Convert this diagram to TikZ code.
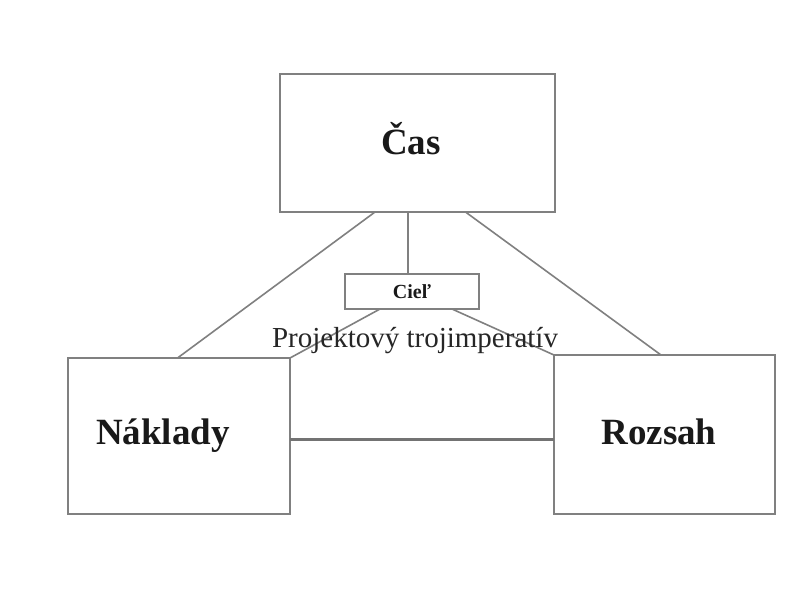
\documentclass[tikz,border=0pt]{standalone}
\usepackage{fontspec}
\setmainfont{Liberation Serif}
\usetikzlibrary{calc}
\begin{document}
\begin{tikzpicture}[x=1pt,y=-1pt,
  box/.style={draw=black!50,line width=2pt,fill=white,inner sep=0pt,outer sep=0pt},
  link/.style={draw=black!50,line width=1.6pt},
  bigtxt/.style={font=\fontsize{37}{42}\selectfont\bfseries,anchor=base,text=black!90,inner sep=0pt},
  midtxt/.style={font=\fontsize{29}{34}\selectfont,anchor=base,text=black!85,inner sep=0pt},
  smalltxt/.style={font=\fontsize{20}{24}\selectfont\bfseries,anchor=base,text=black!90,inner sep=0pt}
]
\useasboundingbox (0,0) rectangle (808,606);
\fill[white] (0,0) rectangle (808,606);
% boxes
\node[box,minimum width=275pt,minimum height=138pt] (cas) at (417.5,143) {};
\node[box,minimum width=134pt,minimum height=35pt] (cil) at (412,291.5) {};
\node[box,minimum width=222pt,minimum height=156pt] (nak) at (179,436) {};
\node[box,minimum width=221pt,minimum height=159pt] (roz) at (664.5,434.5) {};
% connector end points
\coordinate (c1) at ($(cas.south west)+(95,0)$);
\coordinate (c2) at ($(cas.south west)+(128,0)$);
\coordinate (c3) at ($(cas.south west)+(185.5,0)$);
\coordinate (n1) at ($(nak.north west)+(109.5,0)$);
\coordinate (r1) at ($(roz.north west)+(107,0)$);
\coordinate (g1) at ($(cil.south west)+(35,0)$);
\coordinate (g2) at ($(cil.south west)+(107,0)$);
\coordinate (cilt) at (cil.north -| c2);
% connectors
\draw[link] (c1) -- (n1);
\draw[link,line width=2pt] (c2) -- (cilt);
\draw[link] (c3) -- (r1);
\draw[link] (g1) -- (nak.north east);
\draw[link] (g2) -- (roz.north west);
\draw[link,line width=3pt,draw=black!55] ($(nak.east)+(0,3)$) -- ($(nak.east -| roz.west)+(0,3)$);
% texts
\node[bigtxt] (tcas) at (411,154) {Čas};
\node[smalltxt] (tcil) at (412,298) {Cieľ};
\node[bigtxt] (tnak) at (163,444) {Náklady};
\node[bigtxt] (troz) at (659,444) {Rozsah};
\node[midtxt] (tpro) at (415,347) {Projektový trojimperatív};
\end{tikzpicture}
\end{document}
